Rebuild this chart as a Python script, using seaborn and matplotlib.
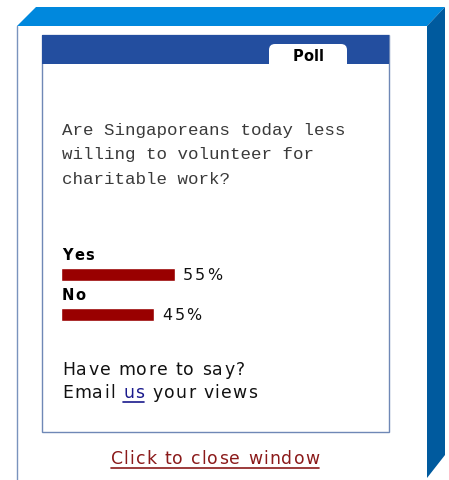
import matplotlib
matplotlib.use("Agg")
import matplotlib.pyplot as plt
from matplotlib.patches import Polygon, Rectangle, FancyBboxPatch
from matplotlib.font_manager import FontProperties, findfont, get_font
from matplotlib.transforms import offset_copy
import seaborn as sns
import pandas as pd

# poll data
answers = ["Yes", "No"]
shares = [55, 45]
question = ["Are Singaporeans today less", "willing to volunteer for", "charitable work?"]

sns.set_style("white")
plt.rcParams["font.family"] = ["DejaVu Sans"]
W, H = 449, 480
fig = plt.figure(figsize=(W / 100, H / 100), dpi=100)


def tracked(ax, x, y, s, size, track=0.0, weight="normal", color="#111111",
            ha="left", start=0.0):
    # the page text is a little letter-spaced, so set it glyph by glyph
    prop = FontProperties(family="DejaVu Sans", weight=weight, size=size)
    font = get_font(findfont(prop))
    font.set_size(size, fig.dpi)
    adv = [font.load_char(ord(c)).linearHoriAdvance / 65536 + track for c in s]
    pos = start - (sum(adv) - track) / 2 if ha == "center" else start
    first = pos
    for c, a in zip(s, adv):
        ax.text(x, y, c, fontproperties=prop, color=color, va="baseline", ha="left",
                transform=offset_copy(ax.transData, fig=fig, x=pos, y=0, units="dots"))
        pos += a
    return first, pos


# background axes in pixel coords for the window chrome
bg = fig.add_axes([0, 0, 1, 1])
bg.set_xlim(0, W)
bg.set_ylim(H, 0)
bg.axis("off")

bg.add_patch(Polygon([(17, 26), (36, 7), (445, 7), (427, 26)], closed=True,
                     facecolor="#0088dd", edgecolor="none"))
bg.add_patch(Polygon([(427, 26), (445, 7), (445, 455), (427, 478)], closed=True,
                     facecolor="#005a9e", edgecolor="none"))
bg.plot([17, 17], [26, 480], color="#7a93bd", lw=1)

# inner poll box
bg.add_patch(Rectangle((42, 35), 347, 397, facecolor="white", edgecolor="#6f88b6", lw=1))
bg.add_patch(Rectangle((42, 35), 347, 29, facecolor="#234e9f", edgecolor="none"))
bg.add_patch(FancyBboxPatch((269, 44), 78, 26, boxstyle="round,pad=0,rounding_size=6",
                            facecolor="white", edgecolor="none"))
tracked(bg, 308, 61, "Poll", 10.5, 0.3, weight="bold", color="black", ha="center")

for k, line in enumerate(question):
    bg.text(62, 135 + 24.5 * k, line, ha="left", va="baseline", fontsize=12.6,
            family="Liberation Mono", color="#3a3a3a")

tracked(bg, 62, 375, "Have more to say?", 12.4, 1.3)
_, p = tracked(bg, 62, 397.5, "Email ", 12.4, 1.3)
a, p = tracked(bg, 62, 397.5, "us", 12.4, 1.3, color="#1a1a8c", start=p)
bg.plot([62 + a, 62 + p - 1.3], [401.5, 401.5], color="#1a1a8c", lw=1.2)
tracked(bg, 62, 397.5, " your views", 12.4, 1.3, start=p)

a, p = tracked(bg, 215, 464, "Click to close window", 12.4, 1.2, color="#8b1a1a",
               ha="center")
bg.plot([215 + a, 215 + p - 1.2], [467.5, 467.5], color="#8b1a1a", lw=1.2)

# results bars
df = pd.DataFrame({"answer": answers, "share": shares})
ax = fig.add_axes([61 / W, 1 - 334.5 / H, 207 / W, 80 / H])
sns.barplot(data=df, x="share", y="answer", orient="h", color="#990000",
            width=0.33, saturation=1, ax=ax)
ax.set_xlim(0, 100)
ax.set_ylim(1.5, -0.5)
ax.axis("off")
for i, (lab, v) in enumerate(zip(answers, shares)):
    tracked(ax, 0, i - 0.36, lab, 10.5, 1.5, weight="bold", color="black", start=1)
    tracked(ax, v, i + 0.14, f"{v}%", 11.4, 2.0, start=8)

fig.savefig("out.png", dpi=100)
